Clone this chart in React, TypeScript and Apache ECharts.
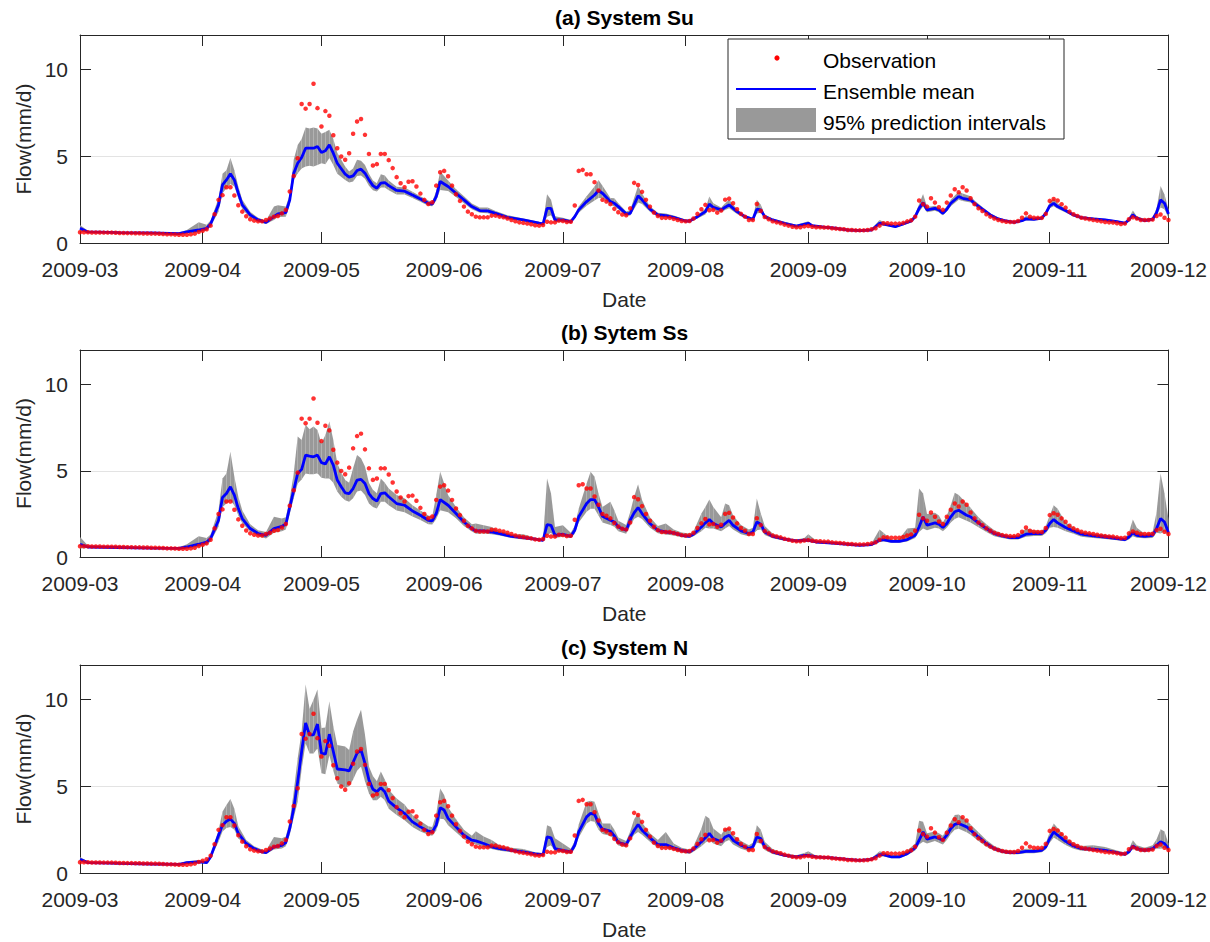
import React, { useEffect, useRef } from "react";
import * as echarts from "echarts";

// Day 0 is 2009-03-01; all series are indexed by day number from that date.
const START_UTC = Date.UTC(2009, 2, 1);
const MONTH_LABELS = [
  "2009-03", "2009-04", "2009-05", "2009-06", "2009-07",
  "2009-08", "2009-09", "2009-10", "2009-11", "2009-12",
];
const Y_TICKS = [0, 5, 10];
const Y_MAX = 12;

const PANEL_TITLES = ["(a) System Su", "(b) Sytem Ss", "(c) System N"];
const LEGEND_LABELS = ["Observation", "Ensemble mean", "95% prediction intervals"];

// Observed daily flow (mm/d), 2009-03-01 .. 2009-12-01
const OBS = [
  0.62, 0.62, 0.62, 0.61, 0.61, 0.61, 0.6, 0.6, 0.6, 0.59,
  0.58, 0.58, 0.57, 0.57, 0.56, 0.56, 0.55, 0.55, 0.54, 0.54,
  0.53, 0.52, 0.5, 0.5, 0.49, 0.48, 0.48, 0.48,
  0.5, 0.54, 0.64, 0.71, 0.79, 1.0,
  1.66, 2.49, 2.76, 3.22, 3.22, 2.74,
  2.18, 1.81, 1.54, 1.37, 1.29, 1.25, 1.25, 1.33, 1.41, 1.52,
  1.56, 1.71, 1.91, 2.97, 3.87, 4.89, 8.02, 7.75, 8.02, 9.19,
  7.78, 6.72, 7.61, 7.34, 6.22, 5.47, 4.99, 4.8, 5.18, 6.3,
  7.01, 7.15, 6.24, 5.14, 4.47, 4.55, 5.14, 5.14, 4.78, 4.32,
  3.8, 3.45, 3.22, 3.53, 3.56, 3.26, 2.85, 2.49, 2.25, 2.35,
  3.31, 4.08, 4.16, 3.85, 3.31, 2.81, 2.43, 2.1, 1.81, 1.66,
  1.52, 1.48, 1.48, 1.48, 1.58, 1.58, 1.52, 1.48, 1.41, 1.33,
  1.25, 1.19, 1.16, 1.12, 1.08, 1.02, 1.0, 1.04, 1.23, 1.19,
  1.19, 1.29, 1.27, 1.21, 1.23, 2.16, 4.16, 4.22, 3.97, 3.97,
  3.51, 3.03, 2.49, 2.39, 2.24, 1.97, 1.77, 1.64, 1.6, 2.0,
  3.47, 3.35, 2.95, 2.49, 2.1, 1.75, 1.56, 1.45, 1.45, 1.45,
  1.39, 1.33, 1.27, 1.25, 1.27, 1.41, 1.68, 1.95, 2.2, 1.89,
  1.91, 1.75, 1.87, 2.5, 2.56, 2.29, 1.95, 1.68, 1.52, 1.33,
  1.33, 2.25, 1.85, 1.5, 1.37, 1.25, 1.19, 1.14, 1.06, 1.0,
  0.94, 0.91, 0.91, 0.96, 0.98, 0.94, 0.91, 0.91, 0.89, 0.89,
  0.85, 0.83, 0.81, 0.79, 0.75, 0.75, 0.73, 0.73, 0.73, 0.75,
  0.79, 0.85, 1.0, 1.14, 1.14, 1.12, 1.12, 1.12, 1.16, 1.25,
  1.31, 1.52, 2.45, 2.24, 2.1, 2.58, 2.33, 2.06, 1.91, 2.33,
  2.74, 3.1, 2.93, 3.22, 3.03, 2.58, 2.24, 2.0, 1.85, 1.66,
  1.52, 1.41, 1.33, 1.27, 1.23, 1.21, 1.21, 1.27, 1.46, 1.71,
  1.52, 1.46, 1.45, 1.45, 1.68, 2.43, 2.54, 2.45, 2.24, 2.04,
  1.81, 1.66, 1.56, 1.46, 1.41, 1.37, 1.33, 1.29, 1.25, 1.21,
  1.19, 1.18, 1.14, 1.1, 1.12, 1.37, 1.48, 1.41, 1.33, 1.33,
  1.33, 1.35, 1.56, 1.64, 1.46, 1.33,
];

// Ensemble rows: [day, lower 95% bound, ensemble mean, upper 95% bound]
const ENS_SU = [
  [0, 0.66, 0.85, 1.04], [2, 0.6, 0.64, 0.7], [10, 0.56, 0.6, 0.64], [18, 0.54, 0.58, 0.62],
  [25, 0.5, 0.54, 0.6], [27, 0.58, 0.64, 0.75], [30, 0.6, 0.75, 1.19], [32, 0.72, 0.85, 1.05],
  [33, 0.95, 1.1, 1.3], [35, 1.81, 2.2, 2.58], [36, 2.87, 3.35, 4.0], [37, 3.16, 3.64, 4.2],
  [38, 3.41, 3.99, 4.9], [39, 3.26, 3.64, 4.2], [40, 2.58, 2.87, 3.26], [41, 1.95, 2.2, 2.5],
  [43, 1.45, 1.62, 1.8], [45, 1.22, 1.33, 1.45], [47, 1.1, 1.19, 1.3], [49, 1.33, 1.52, 2.1],
  [50, 1.5, 1.68, 2.18], [52, 1.52, 1.75, 2.1], [53, 2.2, 2.49, 2.8], [54, 3.64, 4.03, 4.8],
  [55, 4.03, 4.6, 5.66], [56, 4.3, 4.93, 6.0], [57, 4.41, 5.47, 6.67], [58, 4.45, 5.47, 6.6],
  [59, 4.41, 5.47, 6.67], [60, 4.5, 5.57, 6.6], [61, 4.6, 5.22, 6.3], [62, 4.55, 5.32, 6.4],
  [63, 4.9, 5.66, 6.53], [64, 4.5, 5.18, 6.0], [65, 4.0, 4.6, 5.2], [67, 3.64, 3.97, 4.41],
  [68, 3.49, 3.8, 4.12], [69, 3.55, 3.87, 4.3], [70, 3.87, 4.18, 4.8], [71, 3.9, 4.26, 4.75],
  [72, 3.7, 4.03, 4.5], [73, 3.3, 3.64, 4.0], [74, 3.05, 3.31, 3.6], [75, 2.97, 3.16, 3.45],
  [76, 3.2, 3.45, 3.97], [77, 3.2, 3.49, 3.9], [78, 3.05, 3.31, 3.6], [80, 2.8, 3.03, 3.25],
  [82, 2.8, 2.99, 3.2], [84, 2.6, 2.77, 2.95], [86, 2.38, 2.54, 2.7], [88, 2.15, 2.29, 2.45],
  [89, 2.12, 2.24, 2.38], [90, 2.45, 2.68, 3.0], [91, 3.06, 3.55, 4.12], [93, 3.0, 3.26, 3.6],
  [95, 2.65, 2.87, 3.1], [97, 2.3, 2.49, 2.7], [99, 1.95, 2.1, 2.28], [101, 1.75, 1.87, 2.05],
  [103, 1.72, 1.85, 2.05], [105, 1.6, 1.71, 1.85], [108, 1.38, 1.48, 1.6], [112, 1.25, 1.33, 1.42],
  [116, 1.07, 1.14, 1.22], [117, 1.03, 1.1, 1.18], [118, 1.52, 2.0, 2.81], [119, 1.6, 2.0, 2.5],
  [120, 1.2, 1.33, 1.55], [122, 1.22, 1.33, 1.45], [124, 1.14, 1.23, 1.33], [125, 1.4, 1.52, 1.65],
  [126, 1.75, 1.91, 2.1], [128, 2.15, 2.39, 2.7], [130, 2.45, 2.77, 3.26], [131, 2.6, 3.03, 3.64],
  [132, 2.6, 2.87, 3.3], [134, 2.2, 2.39, 2.6], [135, 2.1, 2.29, 2.58], [136, 1.95, 2.1, 2.3],
  [138, 1.56, 1.68, 1.82], [139, 1.58, 1.71, 1.9], [141, 2.33, 2.72, 3.29], [142, 2.25, 2.49, 2.85],
  [144, 1.8, 1.95, 2.12], [146, 1.5, 1.62, 1.75], [148, 1.48, 1.58, 1.7], [150, 1.38, 1.48, 1.58],
  [153, 1.2, 1.27, 1.35], [154, 1.2, 1.27, 1.35], [156, 1.42, 1.52, 1.62], [158, 1.65, 1.81, 1.98],
  [159, 2.0, 2.24, 2.68], [160, 1.9, 2.06, 2.3], [162, 1.78, 1.91, 2.05], [163, 1.9, 2.06, 2.3],
  [164, 2.0, 2.2, 2.49], [166, 1.68, 1.81, 1.95], [168, 1.42, 1.52, 1.62], [170, 1.28, 1.37, 1.46],
  [171, 1.7, 1.95, 2.49], [172, 1.75, 1.91, 2.2], [173, 1.42, 1.52, 1.65], [175, 1.25, 1.33, 1.42],
  [178, 1.07, 1.14, 1.22], [181, 0.92, 0.98, 1.05], [184, 1.02, 1.14, 1.25], [185, 0.94, 1.0, 1.07],
  [188, 0.86, 0.91, 0.97], [191, 0.8, 0.85, 0.9], [194, 0.7, 0.75, 0.8], [197, 0.67, 0.71, 0.76],
  [200, 0.7, 0.75, 0.82], [202, 1.02, 1.14, 1.33], [204, 0.97, 1.04, 1.12], [206, 0.88, 0.94, 1.0],
  [208, 1.02, 1.1, 1.18], [210, 1.18, 1.27, 1.36], [211, 1.4, 1.52, 1.65], [212, 1.8, 2.0, 2.25],
  [213, 2.1, 2.33, 2.83], [214, 1.78, 1.91, 2.1], [215, 1.82, 1.95, 2.1], [216, 1.86, 2.0, 2.15],
  [217, 1.78, 1.91, 2.05], [218, 1.6, 1.71, 1.85], [219, 1.82, 1.95, 2.12], [220, 2.12, 2.29, 2.5],
  [222, 2.5, 2.68, 2.97], [223, 2.42, 2.58, 2.85], [225, 2.33, 2.49, 2.7], [226, 2.15, 2.29, 2.45],
  [228, 1.83, 1.95, 2.08], [230, 1.52, 1.62, 1.72], [232, 1.31, 1.39, 1.47], [234, 1.2, 1.27, 1.34],
  [236, 1.13, 1.19, 1.26], [238, 1.22, 1.29, 1.38], [239, 1.3, 1.39, 1.56], [241, 1.3, 1.37, 1.45],
  [243, 1.35, 1.43, 1.52], [244, 1.6, 1.71, 1.85], [245, 2.0, 2.14, 2.35], [246, 2.12, 2.29, 2.58],
  [247, 1.97, 2.1, 2.3], [249, 1.76, 1.87, 1.98], [251, 1.53, 1.62, 1.72], [253, 1.38, 1.46, 1.55],
  [256, 1.32, 1.39, 1.47], [259, 1.26, 1.33, 1.4], [262, 1.16, 1.23, 1.3], [264, 1.08, 1.14, 1.2],
  [265, 1.25, 1.33, 1.45], [266, 1.5, 1.62, 1.87], [267, 1.35, 1.43, 1.55], [269, 1.22, 1.29, 1.37],
  [271, 1.3, 1.37, 1.47], [272, 1.6, 1.75, 2.0], [273, 2.05, 2.49, 3.29], [274, 1.95, 2.29, 2.8],
  [275, 1.45, 1.68, 1.95],
];

const ENS_SS = [
  [0, 0.5, 0.74, 1.16], [2, 0.52, 0.58, 0.66], [10, 0.5, 0.55, 0.6], [18, 0.47, 0.52, 0.57],
  [25, 0.45, 0.5, 0.56], [27, 0.5, 0.58, 0.74], [30, 0.6, 0.74, 1.2], [32, 0.7, 0.87, 1.1],
  [33, 0.9, 1.07, 1.3], [35, 1.75, 2.13, 2.71], [36, 2.9, 3.45, 4.55], [37, 3.1, 3.68, 4.84],
  [38, 3.26, 4.07, 6.1], [39, 3.0, 3.59, 4.65], [40, 2.4, 2.81, 3.49], [41, 1.95, 2.23, 2.7],
  [43, 1.48, 1.65, 1.9], [45, 1.22, 1.36, 1.55], [47, 1.07, 1.26, 1.45], [49, 1.4, 1.65, 2.33],
  [51, 1.5, 1.78, 2.23], [52, 1.6, 1.9, 2.3], [53, 2.5, 2.9, 3.4], [54, 3.4, 3.88, 4.84],
  [55, 4.26, 4.84, 6.98], [56, 4.5, 5.08, 6.78], [57, 4.84, 5.91, 7.66], [58, 4.8, 5.85, 7.4],
  [59, 4.8, 5.81, 7.56], [60, 4.85, 5.91, 7.36], [61, 4.6, 5.47, 6.6], [62, 4.55, 5.39, 7.07],
  [63, 4.55, 5.81, 7.85], [64, 4.3, 5.33, 6.78], [65, 3.8, 4.46, 5.43], [66, 3.5, 4.07, 4.9],
  [67, 3.29, 3.72, 4.46], [68, 3.2, 3.68, 4.3], [69, 3.4, 3.97, 5.14], [70, 3.8, 4.46, 5.91],
  [71, 3.85, 4.5, 5.72], [72, 3.6, 4.26, 5.24], [73, 3.1, 3.68, 4.3], [74, 2.9, 3.39, 3.9],
  [75, 2.81, 3.24, 3.7], [76, 3.2, 3.68, 4.55], [77, 3.2, 3.72, 4.3], [78, 3.0, 3.49, 3.97],
  [80, 2.7, 3.1, 3.59], [82, 2.6, 3.0, 3.4], [84, 2.35, 2.67, 3.0], [86, 2.15, 2.42, 2.7],
  [88, 1.9, 2.13, 2.4], [89, 1.88, 2.09, 2.35], [90, 2.2, 2.52, 3.59], [91, 2.71, 3.33, 4.94],
  [93, 2.6, 3.0, 3.6], [95, 2.25, 2.52, 2.9], [97, 1.8, 2.03, 2.3], [99, 1.48, 1.65, 1.9],
  [100, 1.35, 1.51, 1.94], [102, 1.36, 1.51, 1.84], [104, 1.32, 1.45, 1.74], [106, 1.24, 1.36, 1.5],
  [109, 1.1, 1.2, 1.32], [112, 1.02, 1.12, 1.32], [115, 0.95, 1.03, 1.12], [117, 0.9, 0.97, 1.05],
  [118, 1.26, 1.88, 4.55], [119, 1.4, 1.84, 3.68], [120, 1.1, 1.26, 1.74], [122, 1.18, 1.32, 1.84],
  [124, 1.1, 1.2, 1.4], [125, 1.35, 1.55, 1.8], [126, 2.0, 2.33, 2.8], [128, 2.62, 3.1, 4.26],
  [129, 2.8, 3.33, 4.94], [130, 2.8, 3.33, 4.65], [131, 2.4, 2.9, 3.68], [132, 2.0, 2.36, 2.9],
  [134, 1.85, 2.13, 3.2], [135, 1.75, 2.03, 2.7], [136, 1.5, 1.74, 2.1], [138, 1.35, 1.55, 1.85],
  [139, 1.8, 2.13, 2.6], [140, 2.2, 2.56, 3.49], [141, 2.33, 2.87, 4.22], [142, 2.2, 2.52, 3.3],
  [144, 1.7, 1.94, 2.3], [146, 1.38, 1.55, 1.8], [148, 1.3, 1.45, 1.94], [150, 1.25, 1.4, 1.6],
  [152, 1.14, 1.26, 1.42], [154, 1.1, 1.2, 1.36], [155, 1.2, 1.32, 1.5], [157, 1.5, 1.74, 2.52],
  [158, 1.7, 1.98, 2.9], [159, 1.65, 2.17, 3.33], [160, 1.65, 1.94, 2.9], [162, 1.5, 1.74, 2.3],
  [163, 1.65, 1.94, 3.1], [164, 1.8, 2.13, 3.0], [165, 1.6, 1.84, 2.4], [167, 1.32, 1.51, 1.85],
  [169, 1.2, 1.36, 1.6], [170, 1.28, 1.45, 1.7], [171, 1.55, 2.03, 3.39], [172, 1.6, 1.9, 2.52],
  [173, 1.28, 1.45, 1.8], [175, 1.08, 1.2, 1.36], [178, 0.94, 1.03, 1.12], [181, 0.85, 0.93, 1.02],
  [183, 0.88, 0.97, 1.1], [184, 0.88, 0.97, 1.32], [186, 0.8, 0.87, 0.95], [190, 0.74, 0.81, 0.88],
  [194, 0.68, 0.74, 0.8], [197, 0.62, 0.68, 0.74], [200, 0.65, 0.72, 0.8], [202, 0.85, 0.97, 1.59],
  [203, 0.9, 1.01, 1.4], [205, 0.82, 0.91, 1.0], [207, 0.82, 0.91, 1.05], [209, 0.9, 1.01, 1.65],
  [211, 1.1, 1.26, 1.7], [212, 1.45, 1.74, 3.97], [213, 1.65, 2.33, 3.68], [214, 1.55, 1.84, 2.5],
  [216, 1.7, 1.98, 2.56], [217, 1.65, 1.9, 2.4], [218, 1.5, 1.71, 2.0], [219, 1.7, 1.94, 2.4],
  [220, 2.0, 2.33, 3.0], [221, 2.2, 2.62, 3.72], [222, 2.3, 2.71, 3.6], [224, 2.1, 2.42, 3.1],
  [225, 2.0, 2.33, 2.85], [227, 1.72, 1.98, 2.3], [229, 1.45, 1.65, 1.9], [231, 1.2, 1.36, 1.55],
  [233, 1.1, 1.22, 1.36], [235, 1.02, 1.12, 1.24], [237, 1.02, 1.12, 1.26], [239, 1.18, 1.32, 1.65],
  [241, 1.22, 1.36, 1.55], [243, 1.22, 1.36, 1.52], [244, 1.38, 1.55, 1.8], [245, 1.7, 1.94, 2.4],
  [246, 1.74, 2.17, 3.0], [247, 1.7, 1.98, 2.8], [249, 1.5, 1.71, 2.0], [251, 1.35, 1.51, 1.72],
  [253, 1.18, 1.32, 1.48], [256, 1.1, 1.22, 1.36], [259, 1.05, 1.16, 1.3], [262, 0.97, 1.07, 1.18],
  [264, 0.92, 1.01, 1.1], [265, 1.02, 1.16, 1.4], [266, 1.2, 1.4, 2.17], [267, 1.12, 1.26, 1.7],
  [269, 1.08, 1.2, 1.35], [271, 1.1, 1.26, 1.45], [272, 1.4, 1.65, 2.6], [273, 1.36, 2.23, 4.84],
  [274, 1.5, 2.03, 3.68], [275, 1.2, 1.4, 2.2],
];

const ENS_N = [
  [0, 0.65, 0.79, 0.93], [2, 0.55, 0.6, 0.66], [10, 0.5, 0.55, 0.6], [18, 0.47, 0.52, 0.57],
  [25, 0.45, 0.5, 0.55], [27, 0.53, 0.6, 0.68], [30, 0.58, 0.64, 0.75], [32, 0.55, 0.6, 0.68],
  [33, 0.82, 0.93, 1.05], [35, 1.8, 2.18, 2.47], [36, 2.4, 2.76, 3.53], [37, 2.6, 2.99, 3.92],
  [38, 2.66, 3.11, 4.27], [39, 2.5, 2.86, 3.7], [40, 2.0, 2.28, 2.7], [42, 1.55, 1.7, 1.9],
  [44, 1.3, 1.41, 1.55], [46, 1.12, 1.22, 1.35], [47, 1.1, 1.18, 1.3], [49, 1.35, 1.51, 2.08],
  [51, 1.42, 1.6, 2.0], [52, 1.55, 1.76, 2.1], [53, 2.2, 2.57, 3.0], [54, 3.2, 3.73, 4.7],
  [55, 4.11, 5.27, 6.62], [56, 6.0, 7.01, 8.17], [57, 7.49, 8.65, 10.87], [58, 6.9, 7.97, 9.46],
  [59, 6.9, 7.97, 10.0], [60, 7.2, 8.59, 10.58], [61, 5.76, 6.91, 8.36], [62, 5.7, 6.85, 8.4],
  [63, 6.8, 8.01, 9.9], [64, 5.9, 7.01, 8.46], [65, 5.17, 6.0, 7.39], [67, 4.9, 5.95, 7.3],
  [68, 5.0, 5.89, 7.1], [69, 5.4, 6.39, 8.17], [70, 5.9, 6.91, 8.84], [71, 6.14, 7.1, 9.42],
  [72, 5.3, 6.33, 7.97], [73, 4.6, 5.37, 6.14], [74, 4.2, 4.83, 5.6], [75, 4.2, 4.69, 5.3],
  [76, 4.4, 4.92, 5.85], [77, 4.2, 4.69, 5.4], [78, 3.7, 4.15, 4.8], [80, 3.35, 3.76, 4.3],
  [82, 3.05, 3.44, 3.95], [84, 2.65, 2.95, 3.35], [86, 2.4, 2.66, 3.0], [88, 2.2, 2.41, 2.7],
  [89, 2.15, 2.37, 2.65], [90, 2.45, 2.76, 3.4], [91, 3.13, 3.76, 4.88], [92, 3.1, 3.63, 4.5],
  [93, 2.75, 3.15, 3.8], [95, 2.35, 2.66, 3.1], [97, 1.95, 2.18, 2.5], [99, 1.7, 1.89, 2.15],
  [100, 1.65, 1.85, 2.41], [102, 1.52, 1.7, 2.1], [104, 1.38, 1.51, 1.9], [106, 1.28, 1.41, 1.6],
  [109, 1.2, 1.31, 1.45], [112, 1.12, 1.22, 1.38], [115, 1.0, 1.1, 1.2], [117, 0.98, 1.06, 1.15],
  [118, 1.5, 2.08, 2.76], [119, 1.6, 2.03, 2.66], [120, 1.25, 1.41, 2.0], [122, 1.18, 1.31, 1.7],
  [124, 1.1, 1.22, 1.4], [125, 1.4, 1.6, 1.85], [126, 2.05, 2.37, 2.8], [128, 2.85, 3.24, 4.11],
  [129, 3.0, 3.44, 4.17], [130, 2.95, 3.38, 4.11], [131, 2.5, 2.86, 3.44], [132, 2.25, 2.53, 2.86],
  [134, 2.15, 2.41, 2.86], [135, 1.9, 2.14, 2.5], [136, 1.58, 1.76, 2.05], [138, 1.48, 1.64, 1.85],
  [139, 1.85, 2.08, 2.4], [140, 2.2, 2.47, 3.1], [141, 2.37, 2.8, 3.44], [142, 2.2, 2.47, 2.9],
  [144, 1.8, 2.03, 2.3], [146, 1.45, 1.64, 1.9], [148, 1.45, 1.64, 2.37], [150, 1.3, 1.45, 1.7],
  [152, 1.18, 1.31, 1.45], [154, 1.1, 1.22, 1.35], [155, 1.22, 1.37, 1.55], [157, 1.55, 1.8, 2.57],
  [158, 1.75, 2.03, 3.3], [159, 1.9, 2.28, 3.15], [160, 1.7, 1.99, 2.57], [162, 1.55, 1.8, 2.2],
  [163, 1.8, 2.08, 2.57], [164, 1.9, 2.18, 2.6], [165, 1.65, 1.89, 2.2], [167, 1.4, 1.6, 1.85],
  [169, 1.25, 1.41, 1.6], [170, 1.33, 1.51, 1.75], [171, 1.75, 2.08, 2.76], [172, 1.7, 1.99, 2.5],
  [173, 1.32, 1.51, 1.8], [175, 1.1, 1.22, 1.38], [178, 0.94, 1.02, 1.12], [181, 0.85, 0.93, 1.02],
  [183, 0.92, 1.02, 1.15], [184, 0.92, 1.02, 1.25], [186, 0.86, 0.93, 1.0], [190, 0.8, 0.87, 0.94],
  [194, 0.73, 0.79, 0.85], [197, 0.67, 0.73, 0.79], [200, 0.72, 0.79, 0.86], [202, 0.95, 1.06, 1.25],
  [203, 0.95, 1.06, 1.2], [205, 0.85, 0.93, 1.02], [207, 0.85, 0.93, 1.05], [209, 1.02, 1.12, 1.3],
  [211, 1.3, 1.45, 1.7], [212, 1.65, 1.89, 3.01], [213, 1.8, 2.37, 2.95], [214, 1.7, 1.95, 2.3],
  [216, 1.85, 2.08, 2.4], [217, 1.75, 1.99, 2.3], [218, 1.65, 1.89, 2.15], [219, 1.9, 2.18, 2.5],
  [220, 2.25, 2.57, 2.95], [221, 2.5, 2.8, 3.34], [222, 2.55, 2.86, 3.38], [224, 2.35, 2.66, 3.05],
  [225, 2.2, 2.47, 2.8], [227, 1.85, 2.08, 2.35], [229, 1.52, 1.7, 1.9], [231, 1.28, 1.41, 1.56],
  [233, 1.14, 1.25, 1.37], [235, 1.08, 1.18, 1.3], [237, 1.08, 1.18, 1.3], [239, 1.14, 1.25, 1.4],
  [241, 1.14, 1.25, 1.38], [243, 1.2, 1.31, 1.45], [244, 1.35, 1.51, 1.72], [245, 1.75, 1.99, 2.35],
  [246, 2.05, 2.37, 2.86], [247, 1.9, 2.18, 2.6], [249, 1.62, 1.83, 2.05], [251, 1.4, 1.56, 1.75],
  [253, 1.28, 1.41, 1.56], [256, 1.25, 1.37, 1.6], [259, 1.2, 1.31, 1.5], [262, 1.08, 1.18, 1.3],
  [264, 1.0, 1.08, 1.18], [265, 1.1, 1.22, 1.38], [266, 1.4, 1.56, 1.89], [267, 1.28, 1.41, 1.6],
  [269, 1.2, 1.31, 1.45], [271, 1.28, 1.41, 1.6], [272, 1.42, 1.6, 1.95], [273, 1.4, 1.8, 2.53],
  [274, 1.45, 1.7, 2.4], [275, 1.25, 1.41, 1.7],
];

const ENSEMBLES = [ENS_SU, ENS_SS, ENS_N];

// Layout
const W = 1210;
const H = 942;
const GRID_LEFT = 80;
const GRID_RIGHT = 41;
const GRID_TOPS = [35, 350, 665];
const GRID_HEIGHTS = [208, 207, 208];
const FONT = '"Liberation Sans", Arial, Helvetica, sans-serif';
const AXIS_COLOR = "#262626";
const BAND_COLOR = "#999999";
const MEAN_COLOR = "#0000ff";
const OBS_COLOR = "#ff0000";

const dayOf = (label: string) => {
  const [y, m] = label.split("-").map(Number);
  return Math.round((Date.UTC(y, m - 1, 1) - START_UTC) / 86400000);
};
const TICK_DAYS = MONTH_LABELS.map(dayOf);
const LAST_DAY = TICK_DAYS[TICK_DAYS.length - 1];
const labelForDay = (v: number) => {
  const i = TICK_DAYS.indexOf(Math.round(v));
  return i >= 0 ? MONTH_LABELS[i] : "";
};

function buildOption() {
  const grid: any[] = [];
  const xAxis: any[] = [];
  const yAxis: any[] = [];
  const series: any[] = [];
  const graphic: any[] = [];
  const plotW = W - GRID_LEFT - GRID_RIGHT;

  const textStyle = { fontFamily: FONT, fontSize: 21, color: AXIS_COLOR };

  for (let p = 0; p < 3; p++) {
    grid.push({ left: GRID_LEFT, right: GRID_RIGHT, top: GRID_TOPS[p], height: GRID_HEIGHTS[p] });
  }
  // bottom x axes (with labels) then top x axes (ticks only)
  for (let p = 0; p < 3; p++) {
    xAxis.push({
      type: "value", gridIndex: p, min: 0, max: LAST_DAY, position: "bottom",
      axisLine: { show: true, onZero: false, lineStyle: { color: AXIS_COLOR, width: 1 } },
      axisTick: { show: true, inside: true, length: 11, customValues: TICK_DAYS, lineStyle: { color: AXIS_COLOR } },
      axisLabel: { show: true, customValues: TICK_DAYS, formatter: labelForDay, margin: 16, ...textStyle },
      splitLine: { show: false },
      name: "Date", nameLocation: "middle", nameGap: 46, nameTextStyle: { ...textStyle },
    });
  }
  for (let p = 0; p < 3; p++) {
    xAxis.push({
      type: "value", gridIndex: p, min: 0, max: LAST_DAY, position: "top",
      axisLine: { show: true, onZero: false, lineStyle: { color: AXIS_COLOR, width: 1 } },
      axisTick: { show: true, inside: true, length: 11, customValues: TICK_DAYS, lineStyle: { color: AXIS_COLOR } },
      axisLabel: { show: false },
      splitLine: { show: false },
    });
  }
  for (let p = 0; p < 3; p++) {
    yAxis.push({
      type: "value", gridIndex: p, min: 0, max: Y_MAX, position: "left",
      axisLine: { show: true, onZero: false, lineStyle: { color: AXIS_COLOR, width: 1 } },
      axisTick: { show: true, inside: true, length: 11, customValues: Y_TICKS, lineStyle: { color: AXIS_COLOR } },
      axisLabel: { show: true, customValues: Y_TICKS, margin: 12, ...textStyle },
      splitLine: { show: true, showMinLine: false, showMaxLine: false, lineStyle: { color: "#e3e3e3", width: 1 } },
      interval: 5,
      name: "Flow(mm/d)", nameLocation: "middle", nameGap: 46, nameTextStyle: { ...textStyle },
    });
  }
  for (let p = 0; p < 3; p++) {
    yAxis.push({
      type: "value", gridIndex: p, min: 0, max: Y_MAX, position: "right", interval: 5,
      axisLine: { show: true, onZero: false, lineStyle: { color: AXIS_COLOR, width: 1 } },
      axisTick: { show: true, inside: true, length: 11, customValues: Y_TICKS, lineStyle: { color: AXIS_COLOR } },
      axisLabel: { show: false },
      splitLine: { show: false },
    });
  }

  for (let p = 0; p < 3; p++) {
    const rows = ENSEMBLES[p];
    // 95% prediction band, drawn as one quad per interval between rows
    series.push({
      type: "custom", xAxisIndex: p, yAxisIndex: p, silent: true, clip: true, z: 1,
      data: rows.map((r) => [r[0], r[1], r[3]]),
      encode: { x: 0, y: [1, 2] },
      renderItem: (params: any, api: any) => {
        const i = params.dataIndex;
        if (i >= rows.length - 1) return null;
        const a = rows[i];
        const b = rows[i + 1];
        const pts = [
          api.coord([a[0], a[3]]), api.coord([b[0], b[3]]),
          api.coord([b[0], b[1]]), api.coord([a[0], a[1]]),
        ];
        return { type: "polygon", shape: { points: pts }, style: { fill: BAND_COLOR } };
      },
    });
    series.push({
      type: "line", xAxisIndex: p, yAxisIndex: p, silent: true, z: 3,
      data: rows.map((r) => [r[0], r[2]]),
      symbol: "none", showSymbol: false,
      lineStyle: { color: MEAN_COLOR, width: 2.8 },
    });
    series.push({
      type: "scatter", xAxisIndex: p, yAxisIndex: p, silent: true, z: 4,
      data: OBS.map((v, d) => [d, v]),
      symbol: "circle", symbolSize: 4.5,
      itemStyle: { color: OBS_COLOR },
    });

    graphic.push({
      type: "text", x: GRID_LEFT + plotW / 2, y: GRID_TOPS[p] - 18, z: 10,
      style: {
        text: PANEL_TITLES[p], fontFamily: FONT, fontSize: 21, fontWeight: "bold",
        fill: "#000", align: "center", verticalAlign: "middle",
      },
    });
  }

  // legend box inside the first panel
  const lx = 728, ly = 39, lw = 336, lh = 100;
  const legendText = (t: string, y: number) => ({
    type: "text", x: 823, y, z: 11,
    style: { text: t, fontFamily: FONT, fontSize: 21, fill: "#000", align: "left", verticalAlign: "middle" },
  });
  graphic.push(
    { type: "rect", z: 10, shape: { x: lx, y: ly, width: lw, height: lh }, style: { fill: "#fff", stroke: AXIS_COLOR, lineWidth: 1 } },
    { type: "circle", z: 11, shape: { cx: 777, cy: 58, r: 2.6 }, style: { fill: OBS_COLOR } },
    { type: "line", z: 11, shape: { x1: 736, y1: 89, x2: 816, y2: 89 }, style: { stroke: MEAN_COLOR, lineWidth: 2.2 } },
    { type: "rect", z: 11, shape: { x: 736, y: 108, width: 80, height: 24 }, style: { fill: BAND_COLOR } },
    legendText(LEGEND_LABELS[0], 60),
    legendText(LEGEND_LABELS[1], 91),
    legendText(LEGEND_LABELS[2], 122),
  );

  return {
    animation: false,
    backgroundColor: "#ffffff",
    grid, xAxis, yAxis, series, graphic,
  };
}

export default function App() {
  const ref = useRef<HTMLDivElement>(null);
  useEffect(() => {
    if (!ref.current) return;
    const chart = echarts.init(ref.current, undefined, { renderer: "svg", width: W, height: H });
    chart.setOption(buildOption() as any);
    return () => chart.dispose();
  }, []);
  return (
    <div
      ref={ref}
      style={{ position: "fixed", left: 0, top: 0, width: W, height: H, background: "#fff" }}
    />
  );
}
